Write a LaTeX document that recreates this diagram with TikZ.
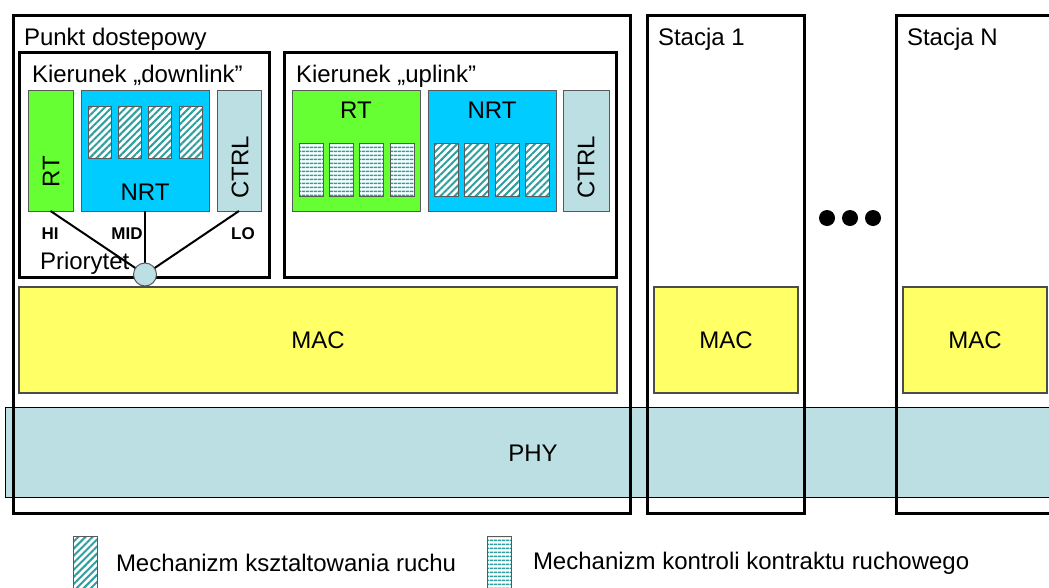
\documentclass[tikz,border=0pt]{standalone}
\usepackage{fontspec}
\setmainfont{Liberation Sans}
\usetikzlibrary{patterns.meta}
\definecolor{rtgreen}{HTML}{66FF33}
\definecolor{nrtblue}{HTML}{00CCFF}
\definecolor{ctrlgray}{HTML}{BBDFE3}
\definecolor{macyellow}{HTML}{FFFF66}
\definecolor{hatchteal}{HTML}{2E9E9E}
\tikzset{
  every node/.style={inner sep=0pt, outer sep=0pt},
  big/.style={font=\fontsize{24}{28}\selectfont},
  small/.style={font=\bfseries\fontsize{17}{20}\selectfont},
  blk/.style={rectangle, anchor=north west},
  frame/.style={blk, draw=black, line width=3pt},
  cbox/.style={blk, draw=black!65, line width=1pt},
  shaper/.style={cbox, preaction={fill=white},
    pattern={Lines[angle=45, distance=5pt, line width=2pt]}, pattern color=hatchteal},
  policer/.style={cbox, preaction={fill=white},
    pattern={Lines[angle=0, distance=4pt, line width=2pt]}, pattern color=hatchteal},
  macbox/.style={cbox, fill=macyellow, draw=black!70, line width=1.3pt},
  link/.style={draw=black, line width=2pt},
}
\begin{document}
\begin{tikzpicture}[x=1pt, y=-1pt]
\useasboundingbox (0,0) rectangle (1049,587);

% physical layer spanning all devices
\node[cbox, fill=ctrlgray, draw=black, minimum width=1050pt, minimum height=90pt] (phy) at (5,407) {};
\node[big] (phylbl) at (533,453) {PHY};

% device frames
\node[frame, minimum width=616.5pt, minimum height=498pt] (ap) at (13.5,15) {};
\node[frame, minimum width=156.5pt, minimum height=498pt] (st1) at (647.5,15) {};
\node[frame, minimum width=169pt, minimum height=498pt] (stN) at (896,15) {};
\node[big, anchor=base west] (aplbl) at (24,45) {Punkt dostepowy};
\node[big, anchor=base west] (st1lbl) at (658,45) {Stacja 1};
\node[big, anchor=base west] (stNlbl) at (907,45) {Stacja N};

% direction boxes
\node[frame, minimum width=249.5pt, minimum height=225pt] (dl) at (19.5,52.5) {};
\node[frame, minimum width=332pt, minimum height=225pt] (ul) at (284.5,52.5) {};
\node[big, anchor=base west] (dllbl) at (32,82) {Kierunek „downlink”};
\node[big, anchor=base west] (ullbl) at (296,82) {Kierunek „uplink”};

% downlink queues
\node[cbox, fill=rtgreen, minimum width=45pt, minimum height=121pt] (dlRT) at (28,90) {};
\node[cbox, fill=nrtblue, minimum width=128pt, minimum height=121pt] (dlNRT) at (81,90) {};
\node[cbox, fill=ctrlgray, minimum width=44pt, minimum height=121pt] (dlCTRL) at (217,90) {};
\node[big, rotate=90] (dlRTlbl) at (51,172) {RT};
\node[big] (dlNRTlbl) at (145,192) {NRT};
\node[big, rotate=90] (dlCTRLlbl) at (240,167) {CTRL};
\foreach \i/\x in {1/88,2/118,3/148,4/179}
  \node[shaper, minimum width=23pt, minimum height=52pt] (dls\i) at (\x,106) {};

% uplink queues
\node[cbox, fill=rtgreen, minimum width=128pt, minimum height=121pt] (ulRT) at (292,90) {};
\node[cbox, fill=nrtblue, minimum width=128pt, minimum height=121pt] (ulNRT) at (428,90) {};
\node[cbox, fill=ctrlgray, minimum width=46pt, minimum height=121pt] (ulCTRL) at (563,90) {};
\node[big] (ulRTlbl) at (356,110) {RT};
\node[big] (ulNRTlbl) at (492,110) {NRT};
\node[big, rotate=90] (ulCTRLlbl) at (586,167) {CTRL};
\foreach \i/\x in {1/299,2/329,3/359,4/390}
  \node[policer, minimum width=24pt, minimum height=53pt] (ulp\i) at (\x,143) {};
\foreach \i/\x in {1/434,2/464,3/495,4/525}
  \node[shaper, minimum width=24pt, minimum height=53pt] (uls\i) at (\x,143) {};

% priority scheduler
\coordinate (prioc) at (145,274.5);
\draw[link] (dlRT.south) -- (prioc);
\draw[link] (dlNRT.south) -- (prioc);
\draw[link] (dlCTRL.south) -- (prioc);
\node[circle, draw=black!65, line width=1pt, fill=ctrlgray, minimum size=23pt] (prio) at (prioc) {};
\node[small] (hi) at (50,234) {HI};
\node[small] (mid) at (127,234) {MID};
\node[small] (lo) at (243,234) {LO};
\node[big, anchor=base west] (priolbl) at (40,269) {Priorytet};

% MAC layers
\node[macbox, minimum width=598pt, minimum height=106pt] (macAP) at (19,287) {};
\node[macbox, minimum width=144pt, minimum height=106pt] (mac1) at (654,287) {};
\node[macbox, minimum width=144pt, minimum height=106pt] (macN) at (903,287) {};
\node[big] (macAPlbl) at (macAP) {MAC};
\node[big] (mac1lbl) at (mac1) {MAC};
\node[big] (macNlbl) at (macN) {MAC};

% further stations
\foreach \i/\x in {1/827,2/850,3/873}
  \node[circle, fill=black, minimum size=16pt] (dot\i) at (\x,218) {};

% legend
\node[shaper, minimum width=24pt, minimum height=56pt] (lgs) at (73,536) {};
\node[big, anchor=west] (lgstxt) at (116,563) {Mechanizm ksztaltowania ruchu};
\node[policer, minimum width=24pt, minimum height=56pt] (lgp) at (487,536) {};
\node[big, anchor=west] (lgptxt) at (533,563) {Mechanizm kontroli kontraktu ruchowego};
\end{tikzpicture}
\end{document}
